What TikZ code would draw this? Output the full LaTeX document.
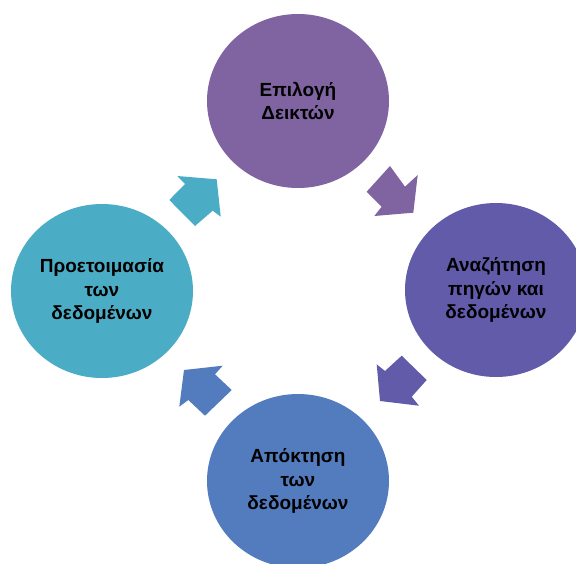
\documentclass[tikz,border=0pt]{standalone}
\usepackage{fontspec}
\setmainfont{Liberation Sans}
\usetikzlibrary{shapes.geometric}
\definecolor{cpurple}{HTML}{8064A2}
\definecolor{cviolet}{HTML}{615BAA}
\definecolor{cblue}{HTML}{527CBD}
\definecolor{caqua}{HTML}{4BACC6}
\tikzset{
  stagebox/.style={ellipse, inner sep=0pt, minimum width=182pt, minimum height=174pt,
    align=center, font=\fontsize{19}{23.5}\selectfont\bfseries, text=black},
  blockarrow/.style={draw=none}
}
\begin{document}
\begin{tikzpicture}[x=1pt,y=-1pt]
\useasboundingbox (0,0) rectangle (576,563);
\node[stagebox, fill=cpurple] (top) at (298,101) {Επιλογή\\Δεικτών};
\node[stagebox, fill=cviolet] (right) at (496,290) {Αναζήτηση\\πηγών και\\δεδομένων};
\node[stagebox, fill=cblue] (bottom) at (298,481) {Απόκτηση\\των\\δεδομένων};
\node[stagebox, fill=caqua] (left) at (102,291) {Προετοιμασία\\των\\δεδομένων};
% arrow left -> top
\fill[blockarrow, caqua] (216.7,179.3) -- (220.7,216.7) -- (212.7,210.7) -- (195,226)
  -- (169.3,200) -- (185,184) -- (177.3,176) -- cycle;
% arrow top -> right
\fill[blockarrow, cpurple] (413.3,212.7) -- (374.3,216) -- (381.7,206.7) -- (366.7,191.7)
  -- (390,166) -- (405,186.7) -- (417.7,175) -- cycle;
% arrow right -> bottom
\fill[blockarrow, cviolet] (380,401) -- (376.7,364.3) -- (385,371) -- (401.7,355.7)
  -- (426.7,380) -- (411.7,396.7) -- (419,405.7) -- cycle;
% arrow bottom -> left
\fill[blockarrow, cblue] (184,370) -- (222.7,365.7) -- (215,374.3) -- (231.7,390)
  -- (205,415.7) -- (188.3,400) -- (179.3,406.7) -- cycle;
\end{tikzpicture}
\end{document}
